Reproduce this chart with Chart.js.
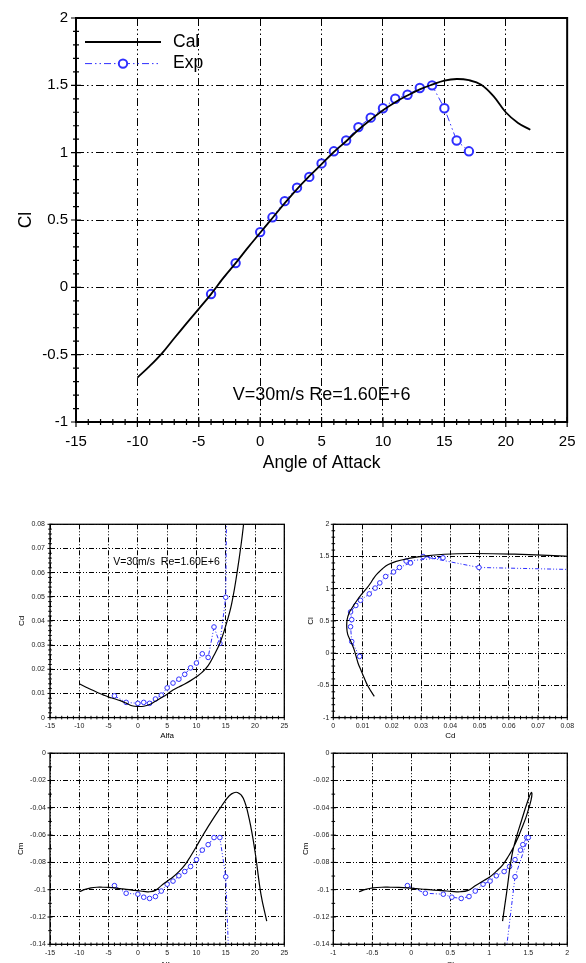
<!DOCTYPE html>
<html>
<head>
<meta charset="utf-8">
<title>Cl / Cd / Cm polars</title>
<script src="https://cdn.jsdelivr.net/npm/chart.js@4.4.1/dist/chart.umd.min.js"></script>
<style>
    html, body { margin: 0; padding: 0; background: #fff; overflow: hidden; }
    .box { position: absolute; }
</style>
</head>
<body>
<div class="box" style="left:0;top:0"><canvas id="chart-cl" width="586" height="480"></canvas></div>
<div class="box" style="left:0;top:500px"><canvas id="chart-cd" width="293" height="245"></canvas></div>
<div class="box" style="left:293px;top:500px"><canvas id="chart-polar" width="293" height="245"></canvas></div>
<div class="box" style="left:0;top:745px"><canvas id="chart-cm" width="293" height="230"></canvas></div>
<div class="box" style="left:293px;top:745px"><canvas id="chart-cmcl" width="293" height="230"></canvas></div>

<script>
// calculated curve, one value per degree from -10 to 22
const calAlpha = [-10, -9, -8, -7, -6, -5, -4, -3, -2, -1, 0, 1, 2, 3, 4, 5, 6, 7, 8, 9, 10, 11, 12, 13, 14, 15, 16, 17, 18, 19, 20, 21, 22];
const calCl = [-0.67, -0.585, -0.49, -0.378, -0.268, -0.16, -0.05, 0.07, 0.18, 0.295, 0.405, 0.515, 0.625, 0.73, 0.825, 0.915, 1.005, 1.085, 1.17, 1.245, 1.315, 1.375, 1.425, 1.47, 1.505, 1.535, 1.547, 1.538, 1.505, 1.42, 1.30, 1.22, 1.17];
const calCd = [0.0140, 0.0128, 0.0116, 0.0105, 0.0095, 0.0085, 0.0078, 0.0070, 0.0060, 0.0049, 0.0046, 0.0047, 0.0054, 0.0068, 0.0082, 0.0097, 0.0114, 0.0127, 0.0139, 0.0153, 0.0169, 0.0188, 0.0215, 0.0258, 0.0308, 0.038, 0.047, 0.061, 0.079, 0.105, 0.14, 0.18, 0.22];
const calCm = [-0.1015, -0.0998, -0.0987, -0.0982, -0.0982, -0.0983, -0.0986, -0.0992, -0.0998, -0.1003, -0.1007, -0.1012, -0.1015, -0.1005, -0.0970, -0.0938, -0.0907, -0.0868, -0.0820, -0.0755, -0.0683, -0.0608, -0.0538, -0.0470, -0.0406, -0.0343, -0.0298, -0.0288, -0.0330, -0.0480, -0.0720, -0.1030, -0.1230];

// wind tunnel data
const expAlpha = [-4, -2, 0, 1, 2, 3, 4, 5, 6, 7, 8, 9, 10, 11, 12, 13, 14, 15, 16, 17];
const expCl = [-0.05, 0.18, 0.41, 0.52, 0.64, 0.74, 0.82, 0.92, 1.01, 1.09, 1.19, 1.26, 1.33, 1.40, 1.43, 1.48, 1.50, 1.33, 1.09, 1.01];
const expCd = [0.0090, 0.0063, 0.0059, 0.0063, 0.0059, 0.0077, 0.0093, 0.0123, 0.0143, 0.0159, 0.0179, 0.0206, 0.0226, 0.0264, 0.0249, 0.0375, 0.0307, 0.0498, 0.29, 0.33];
const expCm = [-0.097, -0.1026, -0.1033, -0.1055, -0.1064, -0.105, -0.101, -0.096, -0.0937, -0.0898, -0.0867, -0.083, -0.078, -0.071, -0.067, -0.0618, -0.0618, -0.0905, -0.205, -0.22];

const seriesNames = ['Cal', 'Exp'];
const caseNote = 'V=30m/s Re=1.60E+6';
const caseNoteSmall = 'V=30m/s  Re=1.60E+6';

const FONT = "'Liberation Sans', Arial, sans-serif";
const BLUE = '#2f2fff';

// solid box round the plot + ticks that cross the left and bottom edges
const framePlugin = {
    id: 'frame',
    afterDatasetsDraw(chart, args, o) {
        const { ctx, chartArea: a, scales } = chart;
        ctx.save();
        ctx.setLineDash([]);
        ctx.strokeStyle = '#000';
        ctx.lineWidth = o.tick;
        ctx.beginPath();
        [['y', o.yMajor, o.yMinor], ['x', o.xMajor, o.xMinor]].forEach(([id, major, minor]) => {
            const s = scales[id];
            const n = Math.round((s.max - s.min) / minor);
            const every = Math.round(major / minor);
            for (let i = 0; i <= n; i++) {
                const p = s.getPixelForValue(s.min + i * minor);
                const len = i % every === 0 ? o.majorLen : o.minorLen;
                if (id === 'y') { ctx.moveTo(a.left - len, p); ctx.lineTo(a.left + len, p); }
                else { ctx.moveTo(p, a.bottom - len); ctx.lineTo(p, a.bottom + len); }
            }
        });
        ctx.stroke();
        ctx.lineWidth = o.width;
        ctx.strokeRect(a.left, a.top, a.right - a.left, a.bottom - a.top);
        ctx.restore();
    }
};

// text placed in data units
const notePlugin = {
    id: 'note',
    afterDraw(chart, args, o) {
        if (!o.text) return;
        const { ctx, scales: { x, y } } = chart;
        ctx.save();
        ctx.fillStyle = '#000';
        ctx.font = o.size + 'px ' + FONT;
        ctx.textAlign = 'center';
        ctx.textBaseline = 'middle';
        ctx.fillText(o.text, x.getPixelForValue(o.x), y.getPixelForValue(o.y));
        ctx.restore();
    }
};

// legend drawn inside the top-left corner of the plot
const boxLegendPlugin = {
    id: 'boxLegend',
    afterDraw(chart, args, o) {
        if (!o.show) return;
        const { ctx, chartArea: a } = chart;
        ctx.save();
        chart.data.datasets.forEach((ds, i) => {
            const yy = a.top + o.top + i * o.gap;
            const x0 = a.left + o.left;
            const x1 = x0 + o.lineLen;
            ctx.strokeStyle = ds.borderColor;
            ctx.lineWidth = ds.borderWidth;
            ctx.setLineDash(ds.borderDash || []);
            ctx.beginPath();
            ctx.moveTo(x0, yy);
            ctx.lineTo(x1, yy);
            ctx.stroke();
            if (ds.pointRadius > 0) {
                ctx.setLineDash([]);
                ctx.lineWidth = ds.pointBorderWidth;
                ctx.fillStyle = '#fff';
                ctx.beginPath();
                ctx.arc((x0 + x1) / 2, yy, ds.pointRadius, 0, Math.PI * 2);
                ctx.fill();
                ctx.stroke();
            }
            ctx.fillStyle = '#000';
            ctx.font = o.size + 'px ' + FONT;
            ctx.textBaseline = 'middle';
            ctx.fillText(ds.label, x1 + o.textGap, yy);
        });
        ctx.restore();
    }
};

function pts(xs, ys) {
    return xs.map((v, i) => ({ x: v, y: ys[i] }));
}

// "2" not "2.0", "0.08" stays "0.08"
function tickText(v) {
    return String(+Number(v).toFixed(4));
}

function axis(o) {
    const horiz = o.pos === 'bottom';
    return {
        type: 'linear',
        position: o.pos,
        min: o.min,
        max: o.max,
        afterFit: s => { if (horiz) s.height = o.size; else s.width = o.size; },
        ticks: {
            stepSize: o.step,
            padding: o.pad,
            color: o.color,
            autoSkip: false,
            maxRotation: 0,
            callback: tickText,
            font: { family: FONT, size: o.fs }
        },
        grid: { color: '#000', lineWidth: 1, drawTicks: false },
        border: { display: false, dash: o.dash },
        title: {
            display: true,
            text: o.title,
            color: '#000',
            font: { family: FONT, size: o.ts },
            padding: horiz ? { top: 0, bottom: o.tp } : { top: o.tp, bottom: 0 }
        }
    };
}

function makeChart(id, cfg) {
    const big = cfg.big;
    const calSet = {
        label: seriesNames[0],
        data: cfg.cal,
        showLine: true,
        borderColor: '#000',
        borderWidth: big ? 1.8 : 1.2,
        pointRadius: 0,
        tension: 0.4,
        fill: false
    };
    const expSet = {
        label: seriesNames[1],
        data: cfg.exp,
        showLine: true,
        borderColor: BLUE,
        borderWidth: 1,
        borderDash: big ? [7, 3, 1.5, 3, 1.5, 3] : [4, 2, 1, 2, 1, 2],
        pointRadius: big ? 4.2 : 2.3,
        pointBorderWidth: big ? 2 : 1,
        pointBorderColor: BLUE,
        pointBackgroundColor: '#fff',
        tension: 0,
        fill: false
    };
    const gridDash = big ? [8, 3, 1.5, 3, 1.5, 3] : [5, 2, 1, 2, 1, 2];
    cfg.x.dash = gridDash;
    cfg.y.dash = gridDash;

    return new Chart(document.getElementById(id), {
        type: 'scatter',
        data: { datasets: [calSet, expSet] },
        options: {
            responsive: false,
            animation: false,
            events: [],
            layout: { padding: cfg.padding },
            elements: { line: { capBezierPoints: false } },
            scales: { x: axis(cfg.x), y: axis(cfg.y) },
            plugins: {
                legend: { display: false },
                tooltip: { enabled: false },
                frame: cfg.frame,
                note: cfg.note || {},
                boxLegend: cfg.legend || { show: false }
            }
        },
        plugins: [framePlugin, notePlugin, boxLegendPlugin]
    });
}

document.addEventListener('DOMContentLoaded', () => {
    const smallTick = { size: 7, color: '#222' };
    const smallFrame = { width: 1.3, tick: 1, majorLen: 2.5, minorLen: 1.8 };

    // Cl vs angle of attack (top, large)
    makeChart('chart-cl', {
        big: true,
        cal: pts(calAlpha, calCl),
        exp: pts(expAlpha, expCl),
        padding: { top: 18, right: 16, left: 0, bottom: 0 },
        x: { pos: 'bottom', min: -15, max: 25, step: 5, size: 58, pad: 10.5, fs: 15, color: '#000', title: 'Angle of Attack', ts: 17.5, tp: 6 },
        y: { pos: 'left', min: -1, max: 2, step: 0.5, size: 76, pad: 8, fs: 15, color: '#000', title: 'Cl', ts: 17.5, tp: 15.5 },
        frame: { width: 2, tick: 1.2, majorLen: 5, minorLen: 3, xMajor: 5, xMinor: 1, yMajor: 0.5, yMinor: 0.1 },
        note: { text: caseNote, x: 5, y: -0.8, size: 18 },
        legend: { show: true, left: 9, top: 24, gap: 21.6, lineLen: 76, textGap: 12, size: 17.5 }
    });

    // Cd vs alfa
    makeChart('chart-cd', {
        cal: pts(calAlpha, calCd),
        exp: pts(expAlpha, expCd),
        padding: { top: 24.3, right: 8.7, left: 0, bottom: 0 },
        x: { pos: 'bottom', min: -15, max: 25, step: 5, size: 27.4, pad: 4.2, fs: smallTick.size, color: smallTick.color, title: 'Alfa', ts: 8, tp: 4.5 },
        y: { pos: 'left', min: 0, max: 0.08, step: 0.01, size: 50, pad: 5, fs: smallTick.size, color: smallTick.color, title: 'Cd', ts: 8, tp: 17 },
        frame: Object.assign({ xMajor: 5, xMinor: 1, yMajor: 0.01, yMinor: 0.002 }, smallFrame),
        note: { text: caseNoteSmall, x: 4.9, y: 0.0645, size: 10.5 }
    });

    // Cl vs Cd
    makeChart('chart-polar', {
        cal: pts(calCd, calCl),
        exp: pts(expCd, expCl),
        padding: { top: 24.3, right: 18.7, left: 0, bottom: 0 },
        x: { pos: 'bottom', min: 0, max: 0.08, step: 0.01, size: 27.4, pad: 4.2, fs: smallTick.size, color: smallTick.color, title: 'Cd', ts: 8, tp: 4.5 },
        y: { pos: 'left', min: -1, max: 2, step: 0.5, size: 40.3, pad: 4, fs: smallTick.size, color: smallTick.color, title: 'Cl', ts: 8, tp: 13 },
        frame: Object.assign({ xMajor: 0.01, xMinor: 0.002, yMajor: 0.5, yMinor: 0.1 }, smallFrame)
    });

    // Cm vs alfa
    makeChart('chart-cm', {
        cal: pts(calAlpha, calCm),
        exp: pts(expAlpha, expCm),
        padding: { top: 6.7, right: 8.7, left: 0, bottom: 0 },
        x: { pos: 'bottom', min: -15, max: 25, step: 5, size: 30.7, pad: 4.5, fs: smallTick.size, color: smallTick.color, title: 'Alfa', ts: 8, tp: 5.2 },
        y: { pos: 'left', min: -0.14, max: 0, step: 0.02, size: 50, pad: 4, fs: smallTick.size, color: smallTick.color, title: 'Cm', ts: 8, tp: 16 },
        frame: Object.assign({ xMajor: 5, xMinor: 1, yMajor: 0.02, yMinor: 0.01 }, smallFrame)
    });

    // Cm vs Cl
    makeChart('chart-cmcl', {
        cal: pts(calCl, calCm),
        exp: pts(expCl, expCm),
        padding: { top: 6.7, right: 18.7, left: 0, bottom: 0 },
        x: { pos: 'bottom', min: -1, max: 2, step: 0.5, size: 30.7, pad: 4.5, fs: smallTick.size, color: smallTick.color, title: 'Cl', ts: 8, tp: 5.2 },
        y: { pos: 'left', min: -0.14, max: 0, step: 0.02, size: 40.3, pad: 4, fs: smallTick.size, color: smallTick.color, title: 'Cm', ts: 8, tp: 8 },
        frame: Object.assign({ xMajor: 0.5, xMinor: 0.1, yMajor: 0.02, yMinor: 0.01 }, smallFrame)
    });
});
</script>
</body>
</html>
